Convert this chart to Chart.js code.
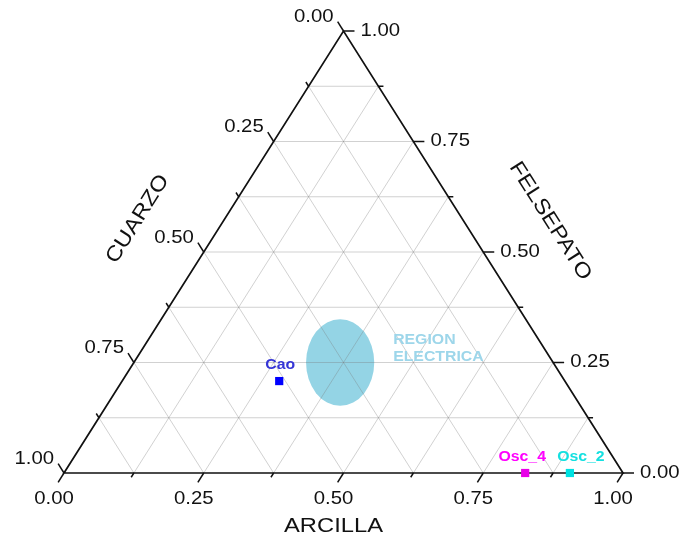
<!DOCTYPE html>
<html>
<head>
<meta charset="utf-8">
<script src="https://cdn.jsdelivr.net/npm/chart.js@4/dist/chart.umd.min.js"></script>
<style>
  html, body { margin: 0; padding: 0; background: #ffffff; }
  canvas { display: block; }
</style>
</head>
<body>
<canvas id="ternary" width="685" height="539"></canvas>
<script>
// Sample compositions (fractions of ARCILLA, FELSEPATO, CUARZO)
const sampleNames = ['Cao', 'Osc_4', 'Osc_2'];
const arcilla   = [0.281, 0.825, 0.905];
const felsepato = [0.208, 0.000, 0.000];
const cuarzo    = [0.511, 0.175, 0.095];

// Axis ticks
const tickValues = [0, 0.25, 0.5, 0.75, 1];
const tickLabels = ['0.00', '0.25', '0.50', '0.75', '1.00'];
const minorStep = 0.125;
const axisTitles = ['ARCILLA', 'FELSEPATO', 'CUARZO'];

// Electrical region: centre composition (arcilla, felsepato, cuarzo) and half extents
const regionCenter = [0.369, 0.250, 0.381];
const regionHalfWidth = 0.061;   // along the ARCILLA direction
const regionHalfHeight = 0.098;  // along the FELSEPATO direction
const regionLabel = ['REGION', 'ELECTRICA'];

// ---- styling ----
const sampleColors = ['#0000ff', '#e800e8', '#00e2e2'];
const labelColors = ['#3535d6', '#ff00ff', '#14e0e0'];
const labelOffsets = [[1, -16], [-3, -16], [11, -16]];
const FONT = '"Liberation Sans", Arial, sans-serif';
const STRETCH = 1.13;

// Ternary -> cartesian (x along the base, y = height)
const toXY = (a, f) => ({ x: a + f / 2, y: f });

function stretchedText(ctx, text, x, y, align, font, color, angle) {
  ctx.save();
  ctx.translate(x, y);
  if (angle) ctx.rotate(angle);
  ctx.scale(STRETCH, 1);
  ctx.font = font;
  ctx.fillStyle = color;
  ctx.textAlign = align;
  ctx.textBaseline = 'middle';
  ctx.fillText(text, 0, 0);
  ctx.restore();
}

const ternaryPlugin = {
  id: 'ternaryFrame',
  beforeDatasetsDraw(chart) {
    const ctx = chart.ctx;
    const xs = chart.scales.x, ys = chart.scales.y;
    const pix = (a, f) => {
      const p = toXY(a, f);
      return { x: xs.getPixelForValue(p.x), y: ys.getPixelForValue(p.y) };
    };
    const BL = pix(0, 0), BR = pix(1, 0), T = pix(0, 1);
    const unit = (p, q) => {
      const dx = q.x - p.x, dy = q.y - p.y, l = Math.hypot(dx, dy);
      return { x: dx / l, y: dy / l };
    };

    // electrical region
    const c = pix(regionCenter[0], regionCenter[1]);
    const rx = Math.abs(xs.getPixelForValue(regionHalfWidth) - xs.getPixelForValue(0));
    const ry = Math.abs(ys.getPixelForValue(regionHalfHeight) - ys.getPixelForValue(0));
    ctx.save();
    ctx.fillStyle = '#94d4e5';
    ctx.beginPath();
    ctx.ellipse(c.x, c.y, rx, ry, 0, 0, Math.PI * 2);
    ctx.fill();
    ctx.restore();

    // grid
    ctx.save();
    ctx.strokeStyle = 'rgba(120,120,120,0.34)';
    ctx.lineWidth = 1;
    const line = (p, q) => { ctx.beginPath(); ctx.moveTo(p.x, p.y); ctx.lineTo(q.x, q.y); ctx.stroke(); };
    for (let v = minorStep; v < 1 - 1e-9; v += minorStep) {
      line(pix(0, v), pix(1 - v, v));      // constant FELSEPATO
      line(pix(v, 0), pix(v, 1 - v));      // constant ARCILLA
      line(pix(1 - v, 0), pix(0, 1 - v));  // constant CUARZO
    }
    ctx.restore();

    // frame
    ctx.save();
    ctx.strokeStyle = '#111111';
    ctx.lineWidth = 1.7;
    ctx.lineJoin = 'miter';
    ctx.beginPath();
    ctx.moveTo(BL.x, BL.y); ctx.lineTo(BR.x, BR.y); ctx.lineTo(T.x, T.y); ctx.closePath();
    ctx.stroke();

    // ticks + labels
    const dBottom = unit(T, BL);   // outward along CUARZO-FELSEPATO edge
    const dLeft = unit(BR, T);     // outward along ARCILLA-FELSEPATO edge
    const dRight = { x: 1, y: 0 };
    const tickFont = '18px ' + FONT;
    ctx.lineWidth = 1.5;
    for (let i = 0; i <= Math.round(1 / minorStep); i++) {
      const v = i * minorStep;
      const k = tickValues.findIndex(t => Math.abs(t - v) < 1e-9);
      const len = k >= 0 ? 11 : 5;

      const pb = pix(v, 0);
      const eb = { x: pb.x + dBottom.x * len, y: pb.y + dBottom.y * len };
      line(pb, eb);

      const pr = pix(1 - v, v);
      const er = { x: pr.x + dRight.x * len, y: pr.y };
      line(pr, er);

      const pl = pix(0, 1 - v);
      const el = { x: pl.x + dLeft.x * len, y: pl.y + dLeft.y * len };
      line(pl, el);

      if (k >= 0) {
        stretchedText(ctx, tickLabels[k], pb.x - 10, pb.y + 26, 'center', tickFont, '#111');
        stretchedText(ctx, tickLabels[k], er.x + 6, pr.y, 'left', tickFont, '#111');
        stretchedText(ctx, tickLabels[k], el.x - 4, el.y - 5, 'right', tickFont, '#111');
      }
    }
    ctx.restore();

    // axis titles
    const titleFont = '21px ' + FONT;
    const mb = pix(0.5, 0);
    stretchedText(ctx, axisTitles[0], mb.x - 10, mb.y + 53, 'center', titleFont, '#111');
    const mr = pix(0.5, 0.5);
    stretchedText(ctx, axisTitles[1], mr.x + 67, mr.y - 31, 'center', titleFont, '#111',
      Math.atan2(BR.y - T.y, BR.x - T.x));
    const ml = pix(0, 0.5);
    stretchedText(ctx, axisTitles[2], ml.x - 66, ml.y - 33, 'center', titleFont, '#111',
      Math.atan2(T.y - BL.y, T.x - BL.x));

    // region caption
    const capFont = 'bold 14px ' + FONT;
    stretchedText(ctx, regionLabel[0], c.x + 53, c.y - 22, 'left', capFont, '#9dd6ea');
    stretchedText(ctx, regionLabel[1], c.x + 53, c.y - 5.5, 'left', capFont, '#9dd6ea');
  },
  afterDatasetsDraw(chart) {
    const ctx = chart.ctx;
    const meta = chart.getDatasetMeta(0);
    meta.data.forEach((pt, i) => {
      stretchedText(ctx, sampleNames[i], pt.x + labelOffsets[i][0], pt.y + labelOffsets[i][1],
        'center', 'bold 14px ' + FONT, labelColors[i]);
    });
  }
};

new Chart(document.getElementById('ternary'), {
  type: 'scatter',
  data: {
    datasets: [{
      label: 'Muestras',
      data: sampleNames.map((n, i) => toXY(arcilla[i], felsepato[i])),
      pointStyle: 'rect',
      pointRadius: 5.8,
      pointHoverRadius: 5.8,
      borderWidth: 0,
      backgroundColor: sampleColors,
      borderColor: sampleColors,
      clip: false
    }]
  },
  options: {
    responsive: false,
    animation: false,
    devicePixelRatio: 1,
    layout: { padding: { left: 64, right: 62, top: 31, bottom: 66 } },
    scales: {
      x: { type: 'linear', min: 0, max: 1, display: false },
      y: { type: 'linear', min: 0, max: 1, display: false }
    },
    plugins: {
      legend: { display: false },
      tooltip: { enabled: false }
    }
  },
  plugins: [ternaryPlugin]
});
</script>
</body>
</html>
